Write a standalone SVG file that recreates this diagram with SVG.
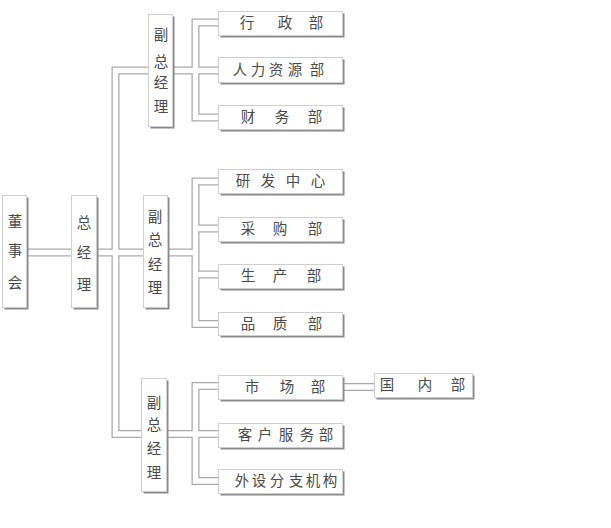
<svg xmlns="http://www.w3.org/2000/svg" xmlns:xlink="http://www.w3.org/1999/xlink" width="611" height="528" viewBox="0 0 611 528">
<style>
.pipeO{fill:none;stroke:#a9a9a9;stroke-width:8;stroke-linejoin:miter;stroke-linecap:butt}
.pipeI{fill:none;stroke:#ffffff;stroke-width:5.5;stroke-linejoin:miter;stroke-linecap:butt}
.sh{fill:#8a8a8a}
.bx{fill:#ffffff;stroke:#cfcfcf;stroke-width:1}
.t{font-family:"Liberation Serif","Noto Sans CJK SC",serif;font-size:14.5px;fill:#4a4a4a;text-anchor:middle}
</style>
<defs>
<path id="c0" d="M27,252.5 H71"/>
<path id="c1" d="M148,70.5 H115.5 V434 H141"/>
<path id="c2" d="M97,252.5 H143"/>
<path id="c3" d="M173,70.5 H218"/>
<path id="c4" d="M218,22.5 H195.5 V117.5 H218"/>
<path id="c5" d="M168,252.5 H195.5"/>
<path id="c6" d="M218,181.5 H195.5 V324 H218"/>
<path id="c7" d="M195.5,228.5 H218 M195.5,274.5 H218"/>
<path id="c8" d="M167,434 H218"/>
<path id="c9" d="M218,386 H195.5 V481 H218"/>
<path id="c10" d="M343,387 H374"/>
</defs>
<rect width="611" height="528" fill="#ffffff"/>
<g id="connectors">
<use xlink:href="#c0" class="pipeO"/><use xlink:href="#c1" class="pipeO"/><use xlink:href="#c2" class="pipeO"/><use xlink:href="#c3" class="pipeO"/><use xlink:href="#c4" class="pipeO"/><use xlink:href="#c5" class="pipeO"/><use xlink:href="#c6" class="pipeO"/><use xlink:href="#c7" class="pipeO"/><use xlink:href="#c8" class="pipeO"/><use xlink:href="#c9" class="pipeO"/><use xlink:href="#c10" class="pipeO"/>
<use xlink:href="#c0" class="pipeI"/><use xlink:href="#c1" class="pipeI"/><use xlink:href="#c2" class="pipeI"/><use xlink:href="#c3" class="pipeI"/><use xlink:href="#c4" class="pipeI"/><use xlink:href="#c5" class="pipeI"/><use xlink:href="#c6" class="pipeI"/><use xlink:href="#c7" class="pipeI"/><use xlink:href="#c8" class="pipeI"/><use xlink:href="#c9" class="pipeI"/><use xlink:href="#c10" class="pipeI"/>
</g>
<g id="n-dongshihui"><rect class="sh" x="4.5" y="197.5" width="24" height="112"/><rect class="bx" x="2.5" y="195.5" width="24" height="112"/><text class="t" x="15" y="227">董</text><text class="t" x="15" y="256">事</text><text class="t" x="15" y="288">会</text></g>
<g id="n-zongjingli"><rect class="sh" x="73.5" y="197.5" width="25" height="112"/><rect class="bx" x="71.5" y="195.5" width="25" height="112"/><text class="t" x="84" y="228">总</text><text class="t" x="84" y="258">经</text><text class="t" x="84" y="290">理</text></g>
<g id="n-fu1"><rect class="sh" x="150.5" y="16.5" width="24" height="112"/><rect class="bx" x="148.5" y="14.5" width="24" height="112"/><text class="t" x="161" y="40">副</text><text class="t" x="161" y="67">总</text><text class="t" x="161" y="88">经</text><text class="t" x="161" y="112">理</text></g>
<g id="n-fu2"><rect class="sh" x="145.5" y="197.5" width="24" height="112"/><rect class="bx" x="143.5" y="195.5" width="24" height="112"/><text class="t" x="155" y="222">副</text><text class="t" x="155" y="245">总</text><text class="t" x="155" y="270">经</text><text class="t" x="155" y="293">理</text></g>
<g id="n-fu3"><rect class="sh" x="143.5" y="380.5" width="25" height="113"/><rect class="bx" x="141.5" y="378.5" width="25" height="113"/><text class="t" x="154" y="408">副</text><text class="t" x="154" y="430">总</text><text class="t" x="154" y="454">经</text><text class="t" x="154" y="478">理</text></g>
<g id="n-xingzheng"><rect class="sh" x="220.5" y="13.5" width="124" height="24"/><rect class="bx" x="218.5" y="11.5" width="124" height="24"/><text class="t" x="247 285 316" y="28">行政部</text></g>
<g id="n-renli"><rect class="sh" x="220.5" y="59.5" width="124" height="25"/><rect class="bx" x="218.5" y="57.5" width="124" height="25"/><text class="t" x="240 258 276 295 317" y="75">人力资源部</text></g>
<g id="n-caiwu"><rect class="sh" x="220.5" y="107.5" width="124" height="24"/><rect class="bx" x="218.5" y="105.5" width="124" height="24"/><text class="t" x="248 282 315" y="122">财务部</text></g>
<g id="n-yanfa"><rect class="sh" x="220.5" y="171.5" width="124" height="24"/><rect class="bx" x="218.5" y="169.5" width="124" height="24"/><text class="t" x="243 268 293 318" y="186">研发中心</text></g>
<g id="n-caigou"><rect class="sh" x="220.5" y="219.5" width="124" height="24"/><rect class="bx" x="218.5" y="217.5" width="124" height="24"/><text class="t" x="248 280 315" y="234">采购部</text></g>
<g id="n-shengchan"><rect class="sh" x="220.5" y="266.5" width="124" height="24"/><rect class="bx" x="218.5" y="264.5" width="124" height="24"/><text class="t" x="248 280 314" y="281">生产部</text></g>
<g id="n-pinzhi"><rect class="sh" x="220.5" y="314.5" width="124" height="23"/><rect class="bx" x="218.5" y="312.5" width="124" height="23"/><text class="t" x="248 280 315" y="329">品质部</text></g>
<g id="n-shichang"><rect class="sh" x="220.5" y="377.5" width="124" height="24"/><rect class="bx" x="218.5" y="375.5" width="124" height="24"/><text class="t" x="252 287 318" y="392">市场部</text></g>
<g id="n-kehu"><rect class="sh" x="220.5" y="425.5" width="124" height="24"/><rect class="bx" x="218.5" y="423.5" width="124" height="24"/><text class="t" x="245 265 286 307 326" y="440">客户服务部</text></g>
<g id="n-waishe"><rect class="sh" x="220.5" y="471.5" width="124" height="24"/><rect class="bx" x="218.5" y="469.5" width="124" height="24"/><text class="t" x="242 259 277 296 313 330" y="486">外设分支机构</text></g>
<g id="n-guonei"><rect class="sh" x="376.5" y="375.5" width="98" height="24"/><rect class="bx" x="374.5" y="373.5" width="98" height="24"/><text class="t" x="387 425 458" y="390">国内部</text></g>
</svg>
